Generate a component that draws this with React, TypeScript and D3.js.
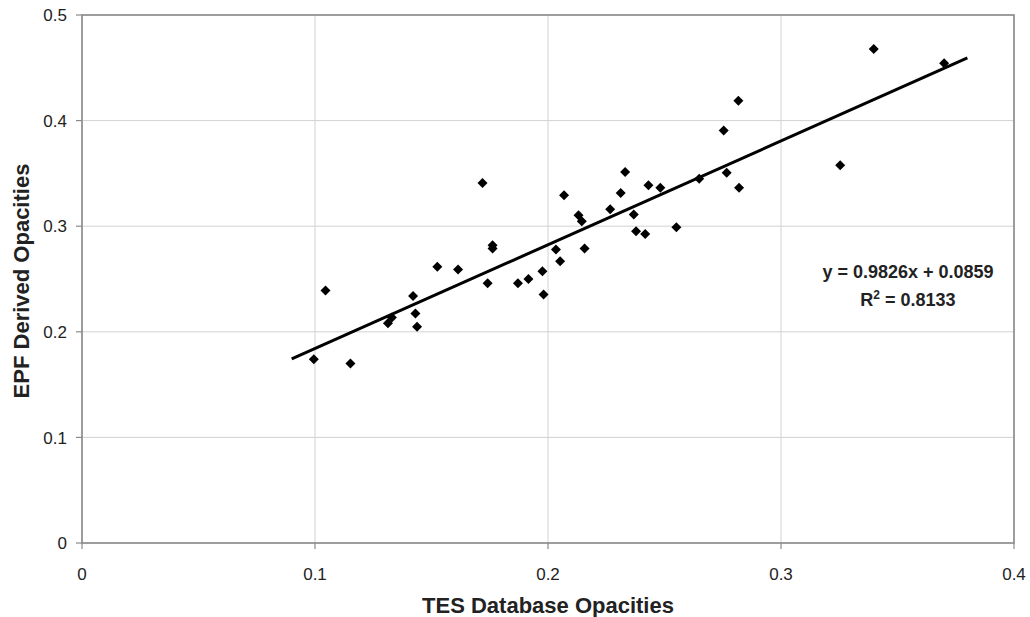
import React from "react";
import * as d3 from "d3";

// TES database opacity vs. EPF-derived opacity
const tesOpacity = [
  0.0995, 0.1045, 0.1152, 0.1313, 0.133, 0.1421, 0.1431, 0.1438, 0.1525, 0.1614,
  0.1719, 0.1741, 0.1762, 0.1762, 0.1871, 0.1916, 0.1976, 0.1981, 0.2034, 0.2052,
  0.2069, 0.2131, 0.2145, 0.2157, 0.2267, 0.2312, 0.2331, 0.2368, 0.2378, 0.2417,
  0.2431, 0.2482, 0.2551, 0.2649, 0.2754, 0.2767, 0.282, 0.2817, 0.3254, 0.3398,
  0.37,
];
const epfOpacity = [
  0.174, 0.239, 0.17, 0.208, 0.2136, 0.2338, 0.2174, 0.2048, 0.2615, 0.259,
  0.341, 0.246, 0.282, 0.279, 0.246, 0.25, 0.2574, 0.2353, 0.2779, 0.2668,
  0.3292, 0.3103, 0.3047, 0.2788, 0.316, 0.3314, 0.3513, 0.311, 0.2952, 0.2927,
  0.3387, 0.3365, 0.299, 0.345, 0.3906, 0.3507, 0.3365, 0.4187, 0.3576, 0.4679,
  0.4543,
];

const xTicks = [0, 0.1, 0.2, 0.3, 0.4];
const yTicks = [0, 0.1, 0.2, 0.3, 0.4, 0.5];
const slope = 0.9826;
const intercept = 0.0859;
const rSquared = 0.8133;
const trendRange = [0.09, 0.38];

const W = 1030;
const H = 617;
const left = 82;
const right = 1014;
const top = 15;
const bottom = 543;
const FONT = "'Liberation Sans', Arial, sans-serif";

export default function App() {
  const x = d3.scaleLinear().domain([0, 0.4]).range([left, right]);
  const y = d3.scaleLinear().domain([0, 0.5]).range([bottom, top]);
  const diamond = d3.symbol().type(d3.symbolSquare).size(50)();
  const trend = d3
    .line<number>()
    .x((v) => x(v))
    .y((v) => y(slope * v + intercept))(trendRange);

  return (
    <svg
      width={W}
      height={H}
      style={{ position: "absolute", left: 0, top: 0, background: "#fff" }}
    >
      {/* grid */}
      {yTicks.map((t) => (
        <line key={"gy" + t} x1={left} x2={right} y1={y(t)} y2={y(t)} stroke="#d2d2d2" strokeWidth={1} />
      ))}
      {xTicks.map((t) => (
        <line key={"gx" + t} x1={x(t)} x2={x(t)} y1={top} y2={bottom} stroke="#d2d2d2" strokeWidth={1} />
      ))}
      {/* plot frame */}
      <rect x={left} y={top} width={right - left} height={bottom - top} fill="none" stroke="#8a8a8a" strokeWidth={1.6} />
      {/* tick marks */}
      {yTicks.map((t) => (
        <line key={"ty" + t} x1={left - 6} x2={left} y1={y(t)} y2={y(t)} stroke="#8a8a8a" strokeWidth={1.2} />
      ))}
      {xTicks.map((t) => (
        <line key={"tx" + t} x1={x(t)} x2={x(t)} y1={bottom} y2={bottom + 6} stroke="#8a8a8a" strokeWidth={1.2} />
      ))}
      {/* tick labels */}
      {yTicks.map((t) => (
        <text key={"ly" + t} x={left - 15} y={y(t)} dy="0.36em" textAnchor="end" fontFamily={FONT} fontSize={17} fill="#222">
          {String(t)}
        </text>
      ))}
      {xTicks.map((t) => (
        <text key={"lx" + t} x={x(t)} y={bottom + 37} textAnchor="middle" fontFamily={FONT} fontSize={17} fill="#222">
          {String(t)}
        </text>
      ))}
      {/* axis titles */}
      <text x={(left + right) / 2} y={613} textAnchor="middle" fontFamily={FONT} fontSize={22} fontWeight="bold" fill="#222">
        TES Database Opacities
      </text>
      <text
        transform={`translate(29, 281) rotate(-90)`}
        textAnchor="middle"
        fontFamily={FONT}
        fontSize={22}
        fontWeight="bold"
        fill="#222"
      >
        EPF Derived Opacities
      </text>
      {/* points */}
      {tesOpacity.map((v, i) => (
        <path
          key={"p" + i}
          d={diamond || ""}
          transform={`translate(${x(v)}, ${y(epfOpacity[i])}) rotate(45)`}
          fill="#000"
        />
      ))}
      {/* linear trend line */}
      <path d={trend || ""} fill="none" stroke="#000" strokeWidth={3} />
      {/* regression annotation */}
      <text x={908} y={278} textAnchor="middle" fontFamily={FONT} fontSize={18} fontWeight="bold" fill="#222">
        {`y = ${slope}x + ${intercept}`}
      </text>
      <text x={908} y={306} textAnchor="middle" fontFamily={FONT} fontSize={18} fontWeight="bold" fill="#222">
        R<tspan dy={-7} fontSize={12}>2</tspan>
        <tspan dy={7}>{` = ${rSquared}`}</tspan>
      </text>
    </svg>
  );
}
